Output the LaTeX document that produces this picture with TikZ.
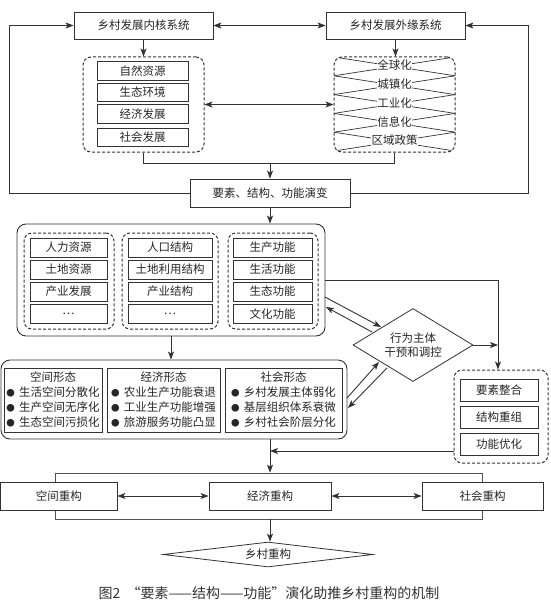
\documentclass[tikz,border=0pt]{standalone}
\usepackage{fontspec}
\setmainfont{Noto Sans CJK SC}
\usetikzlibrary{shapes.geometric,arrows.meta,calc}
\definecolor{ln}{HTML}{333333}
\definecolor{tx}{HTML}{262626}
\newcommand\bul{\makebox[1.1em][l]{\raisebox{0.6pt}{\fontsize{8.5}{8}\selectfont ●}}}
\begin{document}
\begin{tikzpicture}[x=1pt,y=-1pt,
  every node/.style={text=tx, inner sep=0pt, font=\fontsize{11.5}{14}\selectfont},
  sbox/.style={draw=ln, fill=white, line width=0.8pt},
  dbox/.style={draw=ln, densely dashed, line width=1pt, rounded corners=8pt},
  rbox/.style={draw=ln, line width=0.9pt, rounded corners=9pt},
  arr/.style={draw=ln, line width=0.9pt, -{Stealth[length=8pt,width=6pt,inset=2pt]}},
  darr/.style={draw=ln, line width=0.9pt, {Stealth[length=8pt,width=6pt,inset=2pt]}-{Stealth[length=8pt,width=6pt,inset=2pt]}},
  ln/.style={draw=ln, line width=0.9pt},
  xl/.style={draw=ln, line width=0.7pt}]
\useasboundingbox (0,0) rectangle (550,602);

% ---------- top ----------
\node[sbox, minimum width=139pt, minimum height=27pt] (inner) at (143.5,25.5) {乡村发展内核系统};
\node[sbox, minimum width=139pt, minimum height=27pt] (outer) at (395.5,25.5) {乡村发展外缘系统};

\node[dbox, minimum width=121pt, minimum height=95pt] (ldash) at (143.5,104.5) {};
\foreach \t/\y/\n in {自然资源/71/la, 生态环境/92.5/lb, 经济发展/114/lc, 社会发展/137.5/ld}
  \node[sbox, minimum width=91pt, minimum height=18.5pt] (\n) at (142.5,\y) {\t};

\begin{scope}
  \clip[rounded corners=8pt] (334,57) rectangle (455,152);
  \foreach \a/\b in {57/75.8, 75.8/94.6, 94.6/113.4, 113.4/132.2, 132.2/151}{
    \draw[xl] (334,\a) -- (455,\b);
    \draw[xl] (334,\b) -- (455,\a);
  }
\end{scope}
\node[dbox, minimum width=121pt, minimum height=95pt] (rdash) at (394.5,104.5) {};
\foreach \t/\y/\n in {全球化/65.5/ra, 城镇化/84.3/rb, 工业化/103.1/rc, 信息化/121.9/rd, 区域政策/140.6/re}
  \node[fill=white, inner sep=0.6pt] (\n) at (394.5,\y) {\t};

\node[sbox, minimum width=160pt, minimum height=28pt] (ys) at (270,193) {要素、结构、功能演变};

\draw[darr] (inner.east) -- (outer.west);
\draw[arr] (inner.south) -- (ldash.north);
\draw[arr] (outer.south) -- (outer.south |- rdash.north);
\draw[darr] (ldash.east) -- (rdash.west);
\draw[ln] (ldash.south) -- ++(0,11) -| (rdash.south);
\coordinate (mj) at (ys.north |- 0,163);
\draw[arr] (mj) -- (ys.north);
\draw[arr] (ys.west) -- ++(-180,0) |- (inner.west);
\draw[arr] (ys.east) -- ++(178,0) |- (outer.east);

% ---------- middle ----------
\node[rbox, minimum width=308pt, minimum height=112pt] (big) at (171,280) {};
\node[dbox, minimum width=90pt, minimum height=96pt] (c1) at (69,281) {};
\node[dbox, minimum width=96pt, minimum height=96pt] (c2) at (170,281) {};
\node[dbox, minimum width=90pt, minimum height=96pt] (c3) at (273,281) {};
\foreach \t/\y/\n in {人力资源/247.5/pa, 土地资源/269.5/pb, 产业发展/291.5/pc, …/314/pd}
  \node[sbox, minimum width=77pt, minimum height=19pt] (\n) at (68.5,\y) {\t};
\foreach \t/\y/\n in {人口结构/247.5/qa, 土地利用结构/269.5/qb, 产业结构/291.5/qc, …/314/qd}
  \node[sbox, minimum width=84pt, minimum height=19pt] (\n) at (170,\y) {\t};
\foreach \t/\y/\n in {生产功能/247.5/sa, 生活功能/269.5/sb, 生态功能/291.5/sc, 文化功能/314/sd}
  \node[sbox, minimum width=79pt, minimum height=19pt] (\n) at (272.5,\y) {\t};

\draw[arr] (ys.south) -- (ys.south |- big.north);

\node[diamond, aspect=1.6, draw=ln, fill=white, line width=0.8pt, minimum width=120pt, minimum height=73pt, align=center, font=\fontsize{11.5}{13.5}\selectfont] (act) at (413,345) {行为主体\\干预和调控};

% ---------- lower ----------
\node[rbox, minimum width=346pt, minimum height=79pt] (low) at (174,399.5) {};
\node[sbox, minimum width=98pt, minimum height=64pt, align=center, font=\fontsize{11.5}{15}\selectfont] (kj) at (53,400) {空间形态\\\bul 生活空间分散化\\\bul 生产空间无序化\\\bul 生态空间污损化};
\node[sbox, minimum width=113pt, minimum height=64pt, align=center, font=\fontsize{11.5}{15}\selectfont] (jj) at (163.5,400) {经济形态\\\bul 农业生产功能衰退\\\bul 工业生产功能增强\\\bul 旅游服务功能凸显};
\node[sbox, minimum width=117pt, minimum height=64pt, align=center, font=\fontsize{11.5}{15}\selectfont] (sh) at (283.5,400) {社会形态\\\bul 乡村发展主体弱化\\\bul 基层组织体系衰微\\\bul 乡村社会阶层分化};

\draw[arr] (big.south) -- (big.south |- low.north);

\node[dbox, minimum width=94pt, minimum height=93pt] (rd2) at (501,416.5) {};
\foreach \t/\y/\n in {要素整合/390/ta, 结构重组/417/tb, 功能优化/444.5/tc}
  \node[sbox, minimum width=78pt, minimum height=22pt] (\n) at (499,\y) {\t};

\coordinate (vl) at ($(rd2.north)+(-3,0)$);
\draw[arr] (big.east) -| (vl);
\draw[arr] (act.east) -- (act.east -| vl);

% parallel arrows between blocks and the diamond
\coordinate (p1s) at (325,297);  \coordinate (p1e) at (381,327);
\coordinate (p2s) at (372,332);  \coordinate (p2e) at (326,307);
\coordinate (p3s) at (347,398);  \coordinate (p3e) at (379,362);
\coordinate (p4s) at (387,368);  \coordinate (p4e) at (348,408);
\draw[arr] (p1s) -- (p1e);
\draw[arr] (p2s) -- (p2e);
\draw[arr] (p3s) -- (p3e);
\draw[arr] (p4s) -- (p4e);

% ---------- bottom ----------
\node[draw=ln!85, line width=0.7pt, minimum width=427pt, minimum height=46pt] (frame) at (268.5,496) {};
\node[sbox, minimum width=116.5pt, minimum height=28pt] (kjc) at (58.75,496) {空间重构};
\node[sbox, minimum width=122pt, minimum height=28pt] (jjc) at (270,496) {经济重构};
\node[sbox, minimum width=121pt, minimum height=28pt] (shc) at (482.5,496) {社会重构};

\draw[arr] (jjc.north |- low.south) -- (jjc.north |- frame.north);
\coordinate (rj) at (rd2.west |- 0,451);
\draw[arr] (rj) -- (rj -| jjc.north);
\draw[darr] (kjc.east) -- (jjc.west);
\draw[darr] (jjc.east) -- (shc.west);

\node[diamond, aspect=8, draw=ln, fill=white, line width=0.8pt, minimum width=210pt, minimum height=25pt] (xc) at (268,554.5) {乡村重构};
\draw[arr] (jjc.south |- frame.south) -- (jjc.south |- xc.north);

\node[font=\fontsize{14}{16}\selectfont, text=ln] (cap) at (269,593) {图2 \ “要素——结构——功能”演化助推乡村重构的机制};
\end{tikzpicture}
\end{document}
